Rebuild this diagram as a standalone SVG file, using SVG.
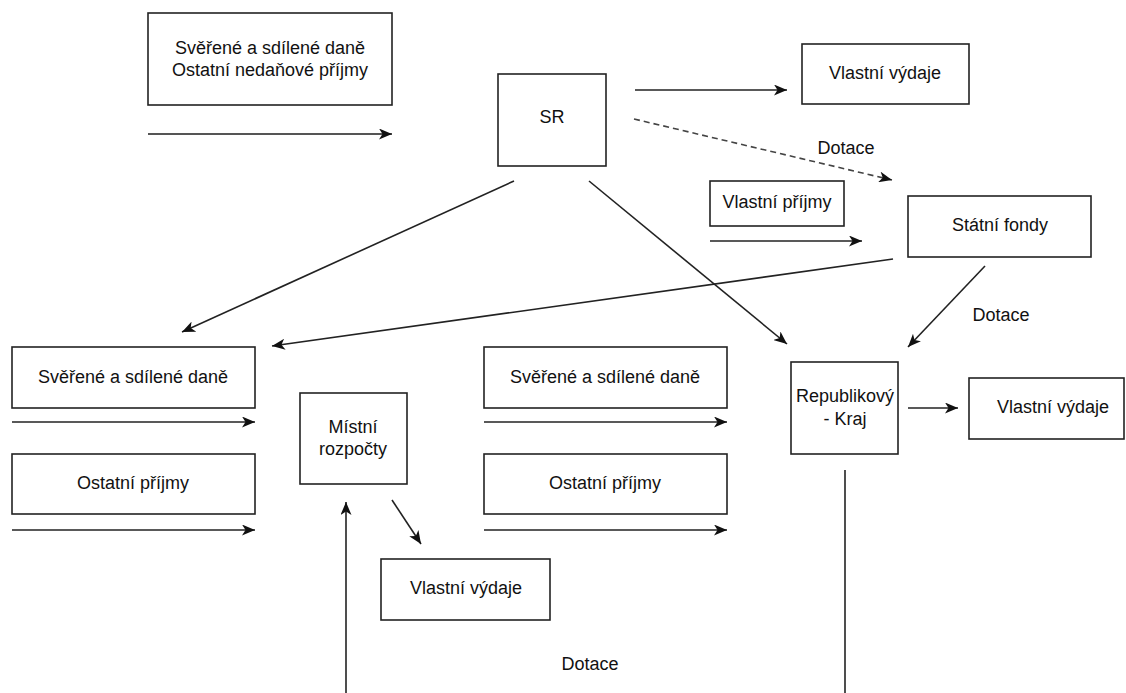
<svg xmlns="http://www.w3.org/2000/svg" width="1126" height="693" viewBox="0 0 1126 693">
  <style>
    .box { fill: #fff; stroke: #222; stroke-width: 1.6; }
    .lbl { font-family: "Liberation Sans", Arial, sans-serif; font-size: 18px; fill: #111; text-anchor: middle; dominant-baseline: central; }
    .edge { fill: none; stroke: #222; stroke-width: 1.6; }
    .arr { marker-end: url(#head); }
    .dash { stroke-dasharray: 6 4; stroke: #444; }
  </style>
  <defs>
    <marker id="head" markerUnits="userSpaceOnUse" viewBox="0 0 13 11" markerWidth="13" markerHeight="11" refX="13" refY="5.5" orient="auto">
      <path d="M0,0 L13,5.5 L0,11 L3.5,5.5 Z" fill="#111"/>
    </marker>
  </defs>
  <rect width="1126" height="693" fill="#fff"/>

  <!-- connectors -->
  <g id="connectors">
    <line class="edge arr" x1="148" y1="134" x2="392" y2="134" style="stroke:#555;stroke-width:2"/>
    <line class="edge arr" x1="635" y1="90" x2="787" y2="90"/>
    <line class="edge arr dash" x1="634" y1="119" x2="892" y2="180"/>
    <line class="edge arr" x1="710" y1="241" x2="862" y2="241"/>
    <line class="edge arr" x1="514" y1="181" x2="182" y2="332"/>
    <line class="edge arr" x1="589" y1="181" x2="787" y2="344"/>
    <line class="edge arr" x1="893" y1="259" x2="272" y2="346"/>
    <line class="edge arr" x1="985" y1="266" x2="908" y2="347"/>
    <line class="edge arr" x1="908" y1="408" x2="958" y2="408"/>
    <line class="edge arr" x1="12" y1="422" x2="255" y2="422"/>
    <line class="edge arr" x1="12" y1="530" x2="255" y2="530"/>
    <line class="edge arr" x1="484" y1="422" x2="727" y2="422"/>
    <line class="edge arr" x1="484" y1="530" x2="727" y2="530"/>
    <line class="edge arr" x1="346" y1="693" x2="346" y2="502"/>
    <line class="edge arr" x1="392" y1="500" x2="421" y2="544"/>
    <line class="edge" x1="845" y1="470" x2="845" y2="693"/>
    <text class="lbl" x="846" y="148">Dotace</text>
    <text class="lbl" x="1001" y="315">Dotace</text>
    <text class="lbl" x="590" y="664">Dotace</text>
  </g>

  <g id="n-sr-prijmy">
    <rect class="box" x="148" y="13" width="244" height="92"/>
    <text class="lbl" x="270" y="48">Svěřené a sdílené daně</text>
    <text class="lbl" x="270" y="70">Ostatní nedaňové příjmy</text>
  </g>
  <g id="n-sr">
    <rect class="box" x="498" y="74" width="108" height="92"/>
    <text class="lbl" x="552" y="117">SR</text>
  </g>
  <g id="n-sr-vydaje">
    <rect class="box" x="802" y="44" width="167" height="60"/>
    <text class="lbl" x="885" y="73">Vlastní výdaje</text>
  </g>
  <g id="n-fondy-prijmy">
    <rect class="box" x="710" y="181" width="134" height="45"/>
    <text class="lbl" x="777" y="202">Vlastní příjmy</text>
  </g>
  <g id="n-fondy">
    <rect class="box" x="908" y="196" width="183" height="61"/>
    <text class="lbl" x="1000" y="225">Státní fondy</text>
  </g>
  <g id="n-mr-dane">
    <rect class="box" x="12" y="347" width="243" height="61"/>
    <text class="lbl" x="133" y="377">Svěřené a sdílené daně</text>
  </g>
  <g id="n-mr-ostatni">
    <rect class="box" x="12" y="454" width="243" height="60"/>
    <text class="lbl" x="133" y="483">Ostatní příjmy</text>
  </g>
  <g id="n-mistni">
    <rect class="box" x="300" y="393" width="107" height="91"/>
    <text class="lbl" x="353" y="427">Místní</text>
    <text class="lbl" x="353" y="449">rozpočty</text>
  </g>
  <g id="n-mr-vydaje">
    <rect class="box" x="381" y="559" width="169" height="61"/>
    <text class="lbl" x="466" y="588">Vlastní výdaje</text>
  </g>
  <g id="n-kr-dane">
    <rect class="box" x="484" y="347" width="243" height="61"/>
    <text class="lbl" x="605" y="377">Svěřené a sdílené daně</text>
  </g>
  <g id="n-kr-ostatni">
    <rect class="box" x="484" y="454" width="243" height="60"/>
    <text class="lbl" x="605" y="483">Ostatní příjmy</text>
  </g>
  <g id="n-kraj">
    <rect class="box" x="791" y="362" width="107" height="92"/>
    <text class="lbl" x="845" y="396">Republikový</text>
    <text class="lbl" x="845" y="419">- Kraj</text>
  </g>
  <g id="n-kr-vydaje">
    <rect class="box" x="969" y="378" width="155" height="61"/>
    <text class="lbl" x="1053" y="407">Vlastní výdaje</text>
  </g>
</svg>
